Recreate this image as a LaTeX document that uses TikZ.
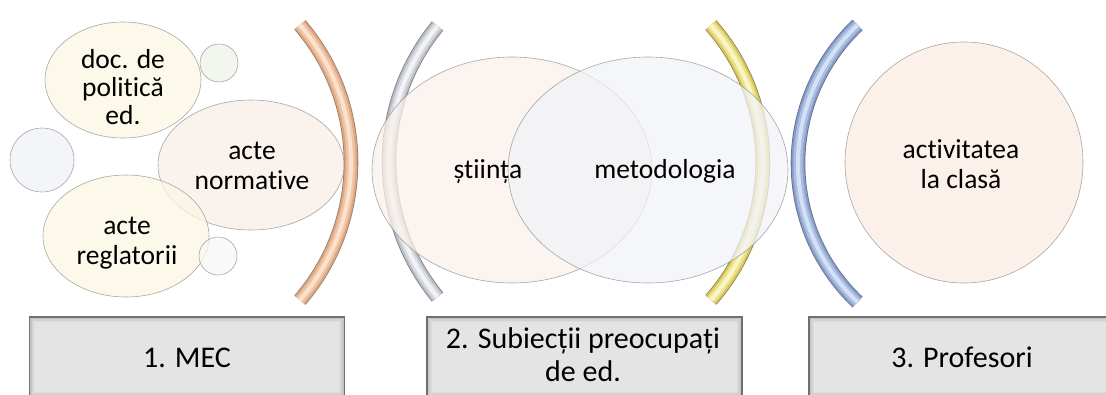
\documentclass[tikz,border=0pt]{standalone}
\usepackage{fontspec}
\setmainfont{Carlito}[Ligatures=NoCommon]
\usetikzlibrary{shapes.geometric,calc}

% bubble colours
\definecolor{docIn}{HTML}{FBF8E4}\definecolor{docMid}{HTML}{F6EDC0}\definecolor{docRim}{HTML}{E6D88C}
\definecolor{norIn}{HTML}{F9EEE7}\definecolor{norMid}{HTML}{F3DCCB}\definecolor{norRim}{HTML}{E6BB9C}
\definecolor{grnIn}{HTML}{EFF4EA}\definecolor{grnMid}{HTML}{DDE9D2}\definecolor{grnRim}{HTML}{B2CC9F}
\definecolor{bluIn}{HTML}{EFF2F8}\definecolor{bluMid}{HTML}{DCE3F1}\definecolor{bluRim}{HTML}{A6B8DA}
\definecolor{gryIn}{HTML}{F8F8F8}\definecolor{gryMid}{HTML}{EAEAEA}\definecolor{gryRim}{HTML}{C8C8C8}
\definecolor{stiIn}{HTML}{FAF1EB}\definecolor{stiMid}{HTML}{F6E1D2}\definecolor{stiRim}{HTML}{ECC1A2}
\definecolor{metIn}{HTML}{F1F3F8}\definecolor{metMid}{HTML}{E5E9F1}\definecolor{metRim}{HTML}{C6CEDE}
\definecolor{actIn}{HTML}{FBEDE3}\definecolor{actMid}{HTML}{F8DDCA}\definecolor{actRim}{HTML}{EFBD94}

% bracket colours
\definecolor{orline}{HTML}{9C7A66}\definecolor{oredge}{HTML}{D9A886}\definecolor{ormain}{HTML}{F0C4A2}\definecolor{orhi}{HTML}{FBE2CF}
\definecolor{gyline}{HTML}{7E8088}\definecolor{gyedge}{HTML}{B8BBC2}\definecolor{gymain}{HTML}{D8DAE0}\definecolor{gyhi}{HTML}{F2F3F6}
\definecolor{yeline}{HTML}{8E8440}\definecolor{yeedge}{HTML}{D4C660}\definecolor{yemain}{HTML}{EEE28C}\definecolor{yehi}{HTML}{FAF5C8}
\definecolor{blline}{HTML}{5E6E96}\definecolor{bledge}{HTML}{8A9CC4}\definecolor{blmain}{HTML}{AABDE2}\definecolor{blhi}{HTML}{D4E0F4}

% box colours
\definecolor{boxline}{HTML}{707070}
\definecolor{boxA}{HTML}{B4B4B4}\definecolor{boxB}{HTML}{C4C4C4}
\definecolor{boxC}{HTML}{D2D2D2}\definecolor{boxD}{HTML}{DCDCDC}\definecolor{boxE}{HTML}{E4E4E4}

% glassy radial fill with a tinted rim
\colorlet{bubin}{white}\colorlet{bubmid}{white}\colorlet{bubrim}{white}
\pgfdeclareradialshading[bubin,bubmid,bubrim]{glass}{\pgfpoint{0bp}{0bp}}%
  {color(0bp)=(bubin); color(24bp)=(bubin); color(40bp)=(bubmid); color(47bp)=(bubrim); color(60bp)=(bubrim)}

\newcommand\bubblefont{\fontsize{27.5}{29.5}\selectfont}
\newcommand\boxfont{\fontsize{30}{33}\selectfont}

% curved band: centre x, centre y, radius, start angle, end angle, colour prefix
\newcommand\bracketband[6]{%
  \draw[line width=14.6pt,#6line] (#1,#2) ++(#4:#3) arc[start angle=#4,end angle=#5,radius=#3];
  \draw[line width=13pt,#6edge] (#1,#2) ++(#4:#3) arc[start angle=#4,end angle=#5,radius=#3];
  \draw[line width=9pt,#6main] (#1,#2) ++(#4:#3) arc[start angle=#4,end angle=#5,radius=#3];
  \draw[line width=4pt,#6hi] (#1,#2) ++(#4:#3) arc[start angle=#4,end angle=#5,radius=#3];
}

% bevelled grey box
\newcommand\bevelbox[3]{%
  \node[boxbase] (#1) at (#2,#3) {};
  \foreach \i/\c in {1.5/boxB,3/boxC,4.5/boxD,6/boxE}
    \fill[\c] ([xshift=\i pt,yshift=-\i pt]#1.north west) rectangle ([xshift=-\i pt,yshift=\i pt]#1.south east);
}

\begin{document}
\begin{tikzpicture}[x=1pt,y=-1pt,
  glass/.style n args={3}{shape=ellipse, inner sep=0pt, draw=black!45, line width=0.6pt,
    /utils/exec={\colorlet{bubin}{#1}\colorlet{bubmid}{#2}\colorlet{bubrim}{#3}},
    shade, shading=glass, fill opacity=0.75, draw opacity=0.75},
  lbl/.style={font=\bubblefont, align=center, text=black, inner sep=0pt},
  boxbase/.style={rectangle, draw=boxline, line width=1.2pt, fill=boxA,
    minimum width=315pt, minimum height=80pt, inner sep=0pt},
  boxlbl/.style={font=\boxfont, align=center, text=black, inner sep=0pt}]

\useasboundingbox (0,0) rectangle (1106,394);
\fill[white] (0,0) rectangle (1106,394);
\clip (0,0) rectangle (1106,394);

% curved separators
\bracketband{140}{162.5}{211}{-40.7}{40.7}{or}
\bracketband{602.5}{161.5}{213.5}{140.6}{219.4}{gy}
\bracketband{555}{162.5}{207.8}{-41.4}{41.4}{ye}
\bracketband{989}{163.5}{191}{133.5}{226.5}{bl}

% group 1 bubbles
\node[glass={grnIn}{grnMid}{grnRim}, minimum width=38pt, minimum height=38pt] (sgreen) at (219,63) {};
\node[glass={bluIn}{bluMid}{bluRim}, minimum width=64pt, minimum height=64pt] (sblue) at (42,160) {};
\node[glass={docIn}{docMid}{docRim}, minimum width=156pt, minimum height=116pt] (doc) at (123,80) {};
\node[glass={norIn}{norMid}{norRim}, minimum width=186pt, minimum height=130pt] (norm) at (251,165) {};
\node[glass={docIn}{docMid}{docRim}, minimum width=166pt, minimum height=122pt] (regl) at (126,236) {};
\node[glass={gryIn}{gryMid}{gryRim}, minimum width=38pt, minimum height=38pt] (sgray) at (218,256) {};

% group 2 bubbles
\node[glass={stiIn}{stiMid}{stiRim}, minimum width=280pt, minimum height=226pt] (sti) at (512,170) {};
\node[glass={metIn}{metMid}{metRim}, minimum width=280pt, minimum height=226pt] (met) at (648,170) {};

% group 3 bubble
\node[glass={actIn}{actMid}{actRim}, minimum width=238pt, minimum height=241pt] (act) at (964,162.5) {};

% bubble texts
\node[lbl, font=\fontsize{27.5}{28}\selectfont] (tdoc) at (123,87) {doc. de\\politică\\ed.};
\node[lbl] (tnorm) at (252,166) {acte\\normative};
\node[lbl] (tregl) at (127,243) {acte\\reglatorii};
\node[lbl, anchor=base] (tsti) at (488,178) {știința};
\node[lbl, anchor=base] (tmet) at (665,178) {metodologia};
\node[lbl] (tact) at (961,164) {activitatea\\la clasă};

% bottom boxes
\bevelbox{b1}{187}{357}
\bevelbox{b2}{584.5}{357}
\bevelbox{b3}{966.5}{357}
\node[boxlbl, anchor=base] (t1) at (187,367) {1. MEC};
\node[boxlbl] (t2) at (583,355) {2. Subiecții preocupați\\de ed.};
\node[boxlbl, anchor=base] (t3) at (962,367) {3. Profesori};
\end{tikzpicture}
\end{document}
